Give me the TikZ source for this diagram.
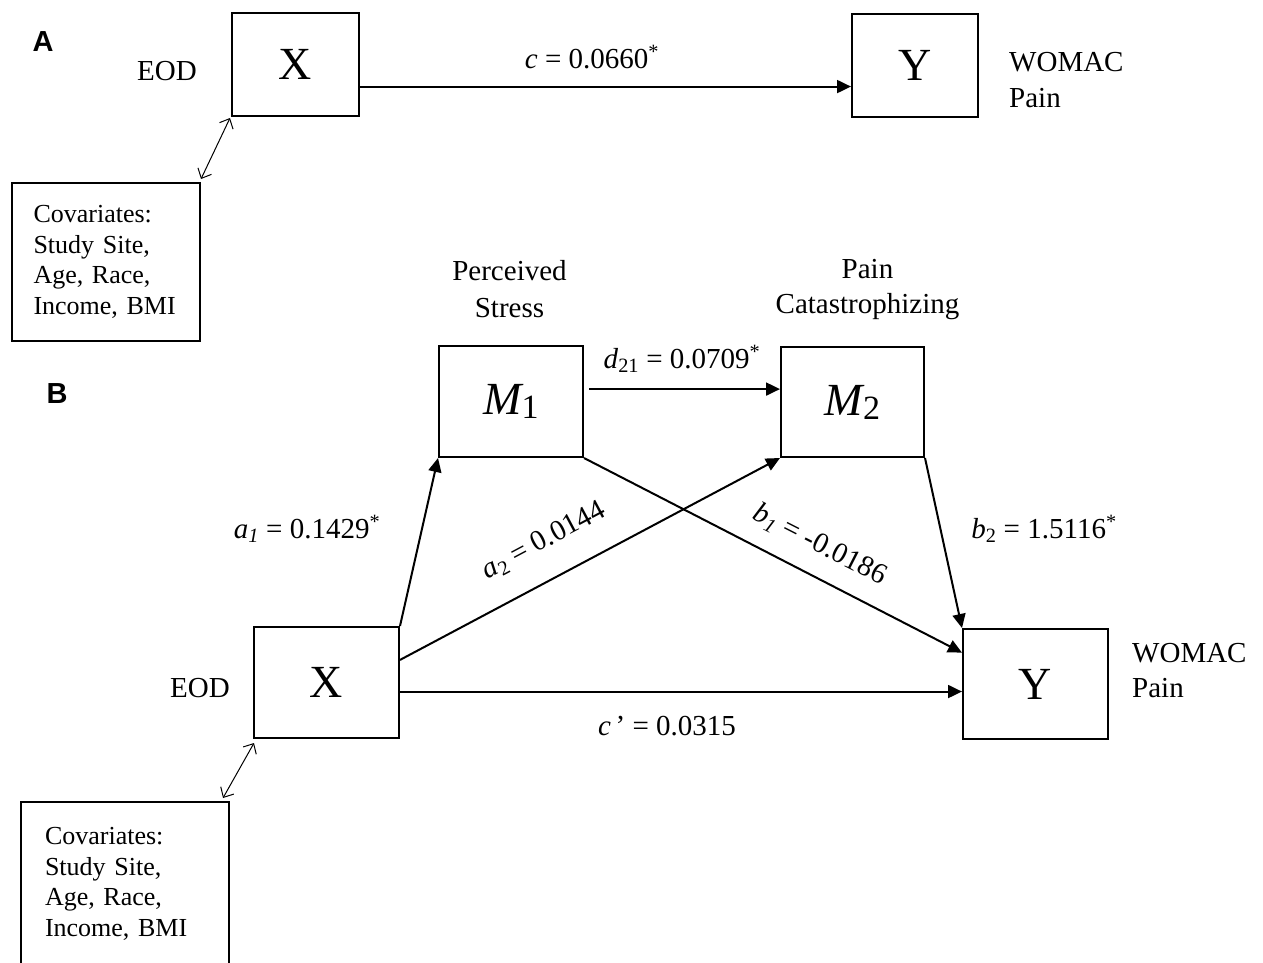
\documentclass[tikz,border=0pt]{standalone}
\usepackage{fontspec}
\setmainfont{Liberation Serif}
\newfontfamily\panelfont{Liberation Sans}
\usetikzlibrary{arrows.meta,calc}
\begin{document}
\begin{tikzpicture}[x=1pt,y=-1pt,
  box/.style={draw,line width=2pt,inner sep=0pt,font=\fontsize{46}{46}\selectfont},
  covbox/.style={draw,line width=2pt,inner ysep=0pt,align=left,font=\fontsize{26}{30.5}\selectfont},
  txt/.style={font=\fontsize{29}{35}\selectfont,inner sep=0pt},
  lab/.style={font=\fontsize{29}{35}\selectfont,inner sep=0pt},
  panel/.style={font=\panelfont\fontsize{29}{29}\selectfont\bfseries,inner sep=0pt},
  arr/.style={line width=2pt,-{Triangle[length=14pt,width=13pt]}},
  dbl/.style={line width=1pt,{Straight Barb[length=8pt,width=15pt]}-{Straight Barb[length=8pt,width=15pt]}}
]
\useasboundingbox (0,0) rectangle (1263,962);
\clip (0,0) rectangle (1263,962);

% ---------- Panel A ----------
\node[panel] (lA) at (43,42) {A};
\node[box,minimum width=127pt,minimum height=103pt] (XA) at (295.5,64.5) {X};
\node[box,minimum width=126pt,minimum height=103pt] (YA) at (915,65.5) {Y};
\node[txt,anchor=base] (eodA) at (167,80) {EOD};
\node[txt,anchor=west,align=left,font=\fontsize{29}{36}\selectfont] (womA) at (1009,80.2) {WOMAC\\Pain};
\node[covbox,text width=145pt,inner xsep=21.5pt,minimum height=158pt] (covA) at (106,262)
  {Covariates:\\Study Site,\\Age, Race,\\Income, BMI};

\coordinate (cA) at ($(XA.north east)!0.71!(XA.south east)$);
\draw[arr] (cA) -- (cA -| YA.west);
\node[lab,anchor=base] (labc) at (592,68) {\textit{c} = 0.0660\textsuperscript{*}};
\draw[dbl] ($(covA.north east)+(0,-3)$) -- ($(XA.south west)+(-1,1)$);

% ---------- Panel B ----------
\node[panel] (lB) at (57,393.5) {B};
\node[box,minimum width=144pt,minimum height=111pt] (M1) at (511,401.5)
  {\textit{M}\kern-2pt\raisebox{-4pt}{\fontsize{34}{34}\selectfont 1}};
\node[box,minimum width=143pt,minimum height=110pt] (M2) at (852.5,402)
  {\textit{M}\kern-2pt\raisebox{-4pt}{\fontsize{34}{34}\selectfont 2}};
\node[box,minimum width=145pt,minimum height=111pt] (XB) at (326.5,682.5) {X};
\node[box,minimum width=145pt,minimum height=110pt] (YB) at (1035.5,684) {Y};

\node[txt,align=center,font=\fontsize{29}{37}\selectfont] (perc) at (509.5,288.8) {Perceived\\Stress};
\node[txt,align=center,font=\fontsize{29}{35}\selectfont] (pcat) at (867.5,289.75) {Pain\\Catastrophizing};
\node[txt,anchor=base] (eodB) at (200,697) {EOD};
\node[txt,anchor=west,align=left,font=\fontsize{29}{35}\selectfont] (womB) at (1132,670.7) {WOMAC\\Pain};
\node[covbox,text width=160pt,inner xsep=24pt,minimum height=164pt,anchor=north] (covB) at (125,801)
  {Covariates:\\Study Site,\\Age, Race,\\Income, BMI};

\draw[arr] (XB.north east) -- (M1.south west);
\coordinate (a2s) at ($(XB.north east)!0.3!(XB.south east)$);
\draw[arr] (a2s) -- (M2.south west);
\coordinate (cps) at ($(XB.north east)!0.58!(XB.south east)$);
\draw[arr] (cps) -- (cps -| YB.west);
\coordinate (ds) at ($(M1.north east)!0.39!(M1.south east)+(5,0)$);
\draw[arr] (ds) -- (ds -| M2.west);
\coordinate (b1e) at ($(YB.north west)!0.22!(YB.south west)$);
\draw[arr] (M1.south east) -- (b1e);
\draw[arr] (M2.south east) -- (YB.north west);
\draw[dbl] ($(covB.north east)+(-7,-3)$) -- ($(XB.south west)+(1,4)$);

\node[lab,anchor=base] (la1) at (307,538) {\textit{a}\textsubscript{\textit{1}} = 0.1429\textsuperscript{*}};
\node[lab,rotate=28] (la2) at (544,541) {\textit{a}\textsubscript{2} = 0.0144};
\node[lab,anchor=base] (ld21) at (682,368) {\textit{d}\textsubscript{21} = 0.0709\textsuperscript{*}};
\node[lab,rotate=-27] (lb1) at (820,545) {\textit{b}\textsubscript{\textit{1}} = -0.0186};
\node[lab,anchor=base] (lb2) at (1044,538) {\textit{b}\textsubscript{2} = 1.5116\textsuperscript{*}};
\node[lab,anchor=base] (lcp) at (667,735) {\textit{c}\,’ = 0.0315};
\end{tikzpicture}
\end{document}
